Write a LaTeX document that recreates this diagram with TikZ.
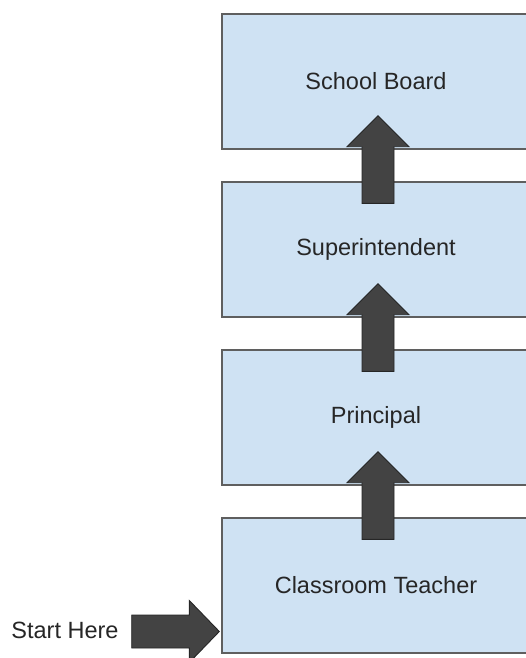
\documentclass[tikz,border=0pt]{standalone}
\usepackage{fontspec}
\setmainfont{Liberation Sans}
\usetikzlibrary{calc}
\definecolor{boxfill}{HTML}{CFE2F3}
\definecolor{boxline}{HTML}{5F5F5F}
\definecolor{arrfill}{HTML}{434343}
\definecolor{txt}{HTML}{262626}
\tikzset{
  box/.style={draw=boxline, line width=1.4pt, fill=boxfill, minimum width=308pt,
    minimum height=135pt, inner sep=0pt, text=txt, font=\fontsize{23.5}{28}\selectfont},
  blk/.style={fill=arrfill, draw=black!85, line width=0.9pt, line join=miter},
  lbl/.style={text=txt, inner sep=0pt, font=\fontsize{23.5}{28}\selectfont}
}
\newcommand\upblk[2]{%
  \path (#1.north) ++(2,22) coordinate (ab);
  \path (#2.south) ++(2,-34) coordinate (at);
  \draw[blk] ($(ab)+(-16,0)$) -- ($(at)+(-16,31)$) -- ($(at)+(-31,31)$) -- (at)
    -- ($(at)+(31,31)$) -- ($(at)+(16,31)$) -- ($(ab)+(16,0)$) -- cycle;
}
\begin{document}
\begin{tikzpicture}[x=1pt,y=-1pt]
\useasboundingbox (0,0) rectangle (525,658);
\node[box] (b1) at (376,81.5) {School Board};
\node[box] (b2) at (376,249.5) {Superintendent};
\node[box] (b3) at (376,417.5) {Principal};
\node[box] (b4) at (376,585.5) {Classroom Teacher};
\upblk{b2}{b1}
\upblk{b3}{b2}
\upblk{b4}{b3}
\node[lbl] (start) at (65,630) {Start Here};
\path (start.east) ++(13,1.5) coordinate (sb);
\path (b4.west) ++(-2,46) coordinate (st);
\draw[blk] ($(sb)+(0,-16.5)$) -- ($(st)+(-30,-16.5)$) -- ($(st)+(-30,-31)$) -- (st)
  -- ($(st)+(-30,31)$) -- ($(st)+(-30,16.5)$) -- ($(sb)+(0,16.5)$) -- cycle;
\end{tikzpicture}
\end{document}
